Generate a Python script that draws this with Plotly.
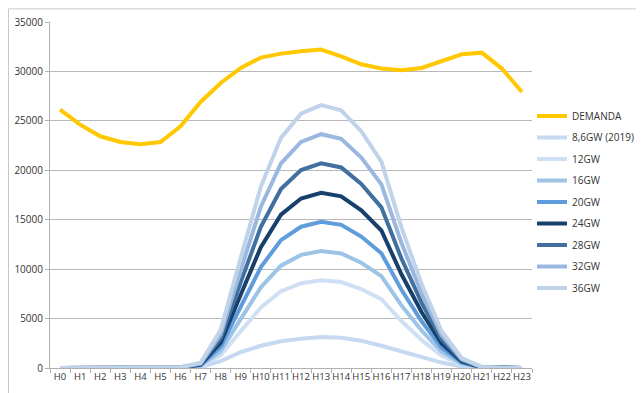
import plotly.graph_objects as go

hours = [f"H{i}" for i in range(24)]

demanda = [26140, 24620, 23440, 22860, 22630, 22860, 24450, 26910, 28830, 30350, 31400, 31800,
           32040, 32210, 31530, 30720, 30290, 30115, 30350, 31060, 31730, 31900, 30290, 27920]
gw_8_6 = [0, 0, 0, 0, 0, 0, 0, 100, 700, 1600, 2250, 2700,
          2960, 3130, 3070, 2750, 2250, 1650, 1050, 550, 150, 0, 0, 0]
gw_12 = [0, 0, 0, 0, 0, 0, 20, 180, 1290, 3730, 6120, 7760,
         8580, 8870, 8690, 7980, 6960, 4750, 2840, 1240, 340, 40, 0, 0]
gw_16 = [0, 0, 0, 0, 0, 0, 30, 240, 1720, 4970, 8160, 10350,
         11440, 11830, 11590, 10650, 9290, 6330, 3790, 1660, 450, 50, 0, 0]
gw_20 = [0, 0, 0, 0, 0, 0, 40, 300, 2140, 6210, 10200, 12930,
         14290, 14780, 14480, 13300, 11600, 7910, 4730, 2070, 560, 60, 0, 0]
gw_24 = [0, 0, 0, 0, 0, 0, 50, 350, 2570, 7440, 12230, 15510,
         17140, 17720, 17370, 15950, 13910, 9480, 5670, 2480, 670, 70, 0, 0]
gw_28 = [0, 0, 0, 0, 0, 0, 60, 410, 3000, 8690, 14280, 18110,
         20020, 20700, 20290, 18630, 16250, 11070, 6620, 2900, 790, 80, 0, 0]
gw_32 = [0, 0, 0, 0, 0, 0, 70, 470, 3430, 9930, 16320, 20690,
         22870, 23650, 23180, 21290, 18570, 12650, 7570, 3310, 900, 90, 0, 0]
gw_36 = [0, 0, 0, 0, 0, 0, 80, 530, 3860, 11170, 18350, 23280,
         25720, 26600, 26070, 23940, 20880, 14230, 8510, 3720, 1010, 110, 0, 0]

series = [
    ("DEMANDA", demanda, "#FFC800"),
    ("8,6GW (2019)", gw_8_6, "#C6D9F1"),
    ("12GW", gw_12, "#CFE0F4"),
    ("16GW", gw_16, "#9DC3E6"),
    ("20GW", gw_20, "#5F9CDB"),
    ("24GW", gw_24, "#17406D"),
    ("28GW", gw_28, "#41709F"),
    ("32GW", gw_32, "#9AB8DF"),
    ("36GW", gw_36, "#C0D3E9"),
]

fig = go.Figure()
for name, vals, color in series:
    fig.add_trace(go.Scatter(
        x=hours, y=vals, name=name, mode="lines",
        line=dict(color=color, width=4), legendgroup=name,
    ))

fig.update_layout(
    width=644, height=393,
    margin=dict(l=42, r=120, t=14, b=33, pad=0, autoexpand=False),
    paper_bgcolor="white", plot_bgcolor="white",
    font=dict(family="Open Sans", size=10, color="#333333"),
    showlegend=True,
    legend=dict(
        x=1.0, xanchor="left", y=0.77, yanchor="top",
        traceorder="grouped", tracegroupgap=2.5,
        font=dict(size=10, color="#333333"),
        bgcolor="rgba(0,0,0,0)", itemwidth=30,
    ),
    xaxis=dict(
        type="category", range=[-0.5, 23.5], automargin=False,
        showgrid=False, showline=True, linecolor="#b0b0b0", linewidth=1,
        ticks="outside", tickson="boundaries", ticklen=4, tickcolor="#b0b0b0",
        tickfont=dict(size=9.5), tickangle=0,
    ),
    yaxis=dict(
        range=[0, 35000], dtick=5000, tickformat="d", automargin=False,
        showgrid=True, gridcolor="#b8b8b8", gridwidth=1,
        showline=True, linecolor="#b0b0b0", linewidth=1,
        ticks="outside", ticklen=4, tickcolor="#b0b0b0",
        zeroline=False, tickfont=dict(size=10),
    ),
    shapes=[dict(
        type="rect", xref="paper", yref="paper",
        x0=-0.0861, x1=1.3, y0=-0.15, y1=1.038,
        line=dict(color="#c8c8c8", width=1), fillcolor="rgba(0,0,0,0)",
        layer="below",
    )],
)

fig.write_html("out.html")
